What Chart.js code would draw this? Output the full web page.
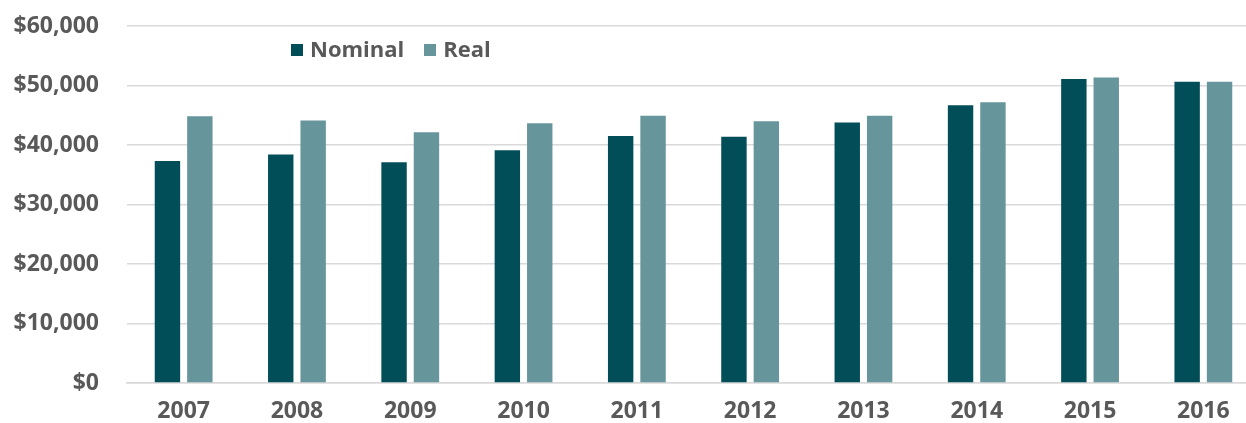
<!DOCTYPE html>
<html>
<head>
<meta charset="utf-8">
<script src="https://cdn.jsdelivr.net/npm/chart.js@4.4.0/dist/chart.umd.min.js"></script>
<style>
  html, body { margin: 0; padding: 0; background: #fff; overflow: hidden; }
  #wrap { position: relative; width: 1260px; height: 423px; }
  #legend { position: absolute; left: 291px; top: 33px; font-family: "Open Sans", sans-serif; font-weight: 700; font-size: 22px; color: #595959; white-space: nowrap; }
  #legend span.box { display: inline-block; width: 12px; height: 12px; margin-right: 7px; vertical-align: 1px; }
  #legend span.item { margin-right: 20px; }
</style>
</head>
<body>
<div id="wrap">
  <canvas id="incomeChart" width="1260" height="423"></canvas>
  <div id="legend"></div>
</div>
<script>
// Median income, nominal vs real dollars
var years = ['2007', '2008', '2009', '2010', '2011', '2012', '2013', '2014', '2015', '2016'];
var nominal = [37300, 38400, 37100, 39100, 41500, 41400, 43800, 46700, 51100, 50650];
var real = [44850, 44100, 42150, 43650, 44900, 44000, 44900, 47200, 51350, 50650];
var yTicks = [0, 10000, 20000, 30000, 40000, 50000, 60000];

var nominalColor = '#024E58';
var realColor = '#66969B';
var textColor = '#595959';

var incomeChart = new Chart(document.getElementById('incomeChart'), {
    type: 'bar',
    data: {
        labels: years,
        datasets: [{
            label: 'Nominal',
            data: nominal,
            backgroundColor: nominalColor,
            categoryPercentage: 0.572,
            barPercentage: 0.784
        },
        {
            label: 'Real',
            data: real,
            backgroundColor: realColor,
            categoryPercentage: 0.572,
            barPercentage: 0.784
        }]
    },
    options: {
        responsive: false,
        animation: false,
        layout: {
            padding: { top: 26, left: 0, right: 0, bottom: 0 }
        },
        plugins: {
            legend: { display: false },
            tooltip: { enabled: false }
        },
        scales: {
            x: {
                grid: { display: false, drawTicks: false },
                border: { display: true, color: '#D9D9D9', width: 1.5 },
                ticks: {
                    color: textColor,
                    padding: 15,
                    font: { family: 'Open Sans', weight: 'bold', size: 23 }
                },
                afterFit: function(scale) {
                    scale.height = 40;
                    scale.paddingLeft = 0;
                    scale.paddingRight = 0;
                }
            },
            y: {
                min: yTicks[0],
                max: yTicks[yTicks.length - 1],
                afterBuildTicks: function(scale) {
                    scale.ticks = yTicks.map(v => ({ value: v }));
                },
                grid: { color: '#D9D9D9', lineWidth: 1.5, drawTicks: false },
                border: { display: false },
                ticks: {
                    color: textColor,
                    padding: 28,
                    font: { family: 'Open Sans', weight: 'bold', size: 23 },
                    callback: function(value) {
                        return '$' + Number(value).toLocaleString('en-US');
                    }
                },
                afterFit: function(scale) {
                    scale.width = 127;
                    scale.paddingTop = 0;
                    scale.paddingBottom = 0;
                }
            }
        }
    }
});

// html legend laid over the plot
var legendHtml = '';
incomeChart.data.datasets.forEach(function(ds) {
    legendHtml += '<span class="item"><span class="box" style="background:' + ds.backgroundColor + '"></span>' + ds.label + '</span>';
});
document.getElementById('legend').innerHTML = legendHtml;
</script>
</body>
</html>
